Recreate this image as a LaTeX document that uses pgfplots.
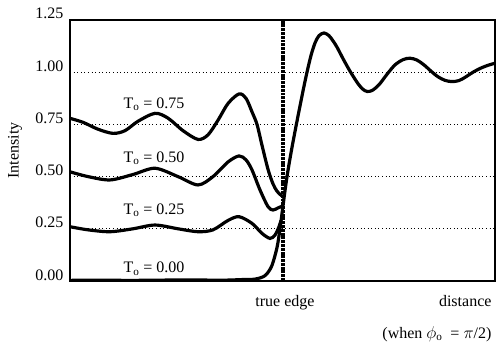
\documentclass[border=0pt]{standalone}
\usepackage{fontspec}
\setmainfont{Liberation Serif}
\usepackage{pgfplots}
\pgfplotsset{compat=1.18}
\begin{document}
\fontsize{16bp}{19bp}\selectfont
\begin{tikzpicture}
\begin{axis}[
  scale only axis,
  width=425bp, height=261bp,
  xmin=-213, xmax=212, ymin=0, ymax=1.25,
  xtick=\empty,
  ytick={0,0.25,0.5,0.75,1.0,1.25},
  yticklabel style={/pgf/number format/fixed,/pgf/number format/fixed zerofill,/pgf/number format/precision=2,/pgf/number format/assume math mode=true, anchor=base east, xshift=-1bp, yshift=1bp},
  major tick length=0pt,
  ymajorgrids,
  grid style={black, line width=1pt, dash pattern=on 1pt off 2.6pt},
  axis line style={black, line width=1.4pt},
  ylabel={Intensity},
  ylabel style={at={(rel axis cs:0,0.5)}, anchor=center, yshift=55bp},
  clip=false,
  every axis plot/.append style={black, line width=3.2pt, no marks},
]
% true edge line
\addplot[line width=4.2pt, dash pattern=on 3pt off 0.8pt] coordinates {(0,0) (0,1.25)};
% T0 = 0.00 (full curve)
\addplot[smooth, tension=0.5] coordinates {
(-213,0.003) (-190,0.004) (-150,0.003) (-100,0.005) (-60,0.004) (-40,0.007) (-30,0.008)
(-25,0.012) (-20,0.02) (-16,0.035) (-11,0.075) (-6,0.16) (-3,0.25) (0,0.36) (4,0.50)
(9,0.64) (15,0.79) (20,0.91) (24,1.0) (28,1.08) (32,1.14) (36,1.175) (41,1.188)
(46,1.175) (50,1.15) (54,1.12) (60,1.065) (67,1.005) (75,0.945) (80,0.918) (84,0.908)
(89,0.912) (96,0.94) (104,0.99) (112,1.035) (120,1.06) (127,1.067) (134,1.058)
(141,1.035) (148,1.005) (155,0.978) (162,0.961) (169,0.955) (176,0.96) (183,0.978)
(190,1.0) (198,1.02) (205,1.033) (212,1.043)};
% T0 = 0.25
\addplot[smooth, tension=0.5] coordinates {
(-213,0.26) (-195,0.245) (-173,0.236) (-150,0.25) (-128,0.268) (-105,0.25) (-85,0.236)
(-70,0.245) (-55,0.29) (-44,0.308) (-31,0.276) (-21,0.228) (-13,0.204) (-8,0.22)
(-4,0.26) (-2,0.29)};
% T0 = 0.50
\addplot[smooth, tension=0.5] coordinates {
(-213,0.523) (-195,0.5) (-173,0.484) (-150,0.51) (-128,0.54) (-105,0.5) (-85,0.46)
(-70,0.5) (-55,0.57) (-44,0.599) (-37,0.58) (-31,0.532) (-23,0.436) (-15,0.356)
(-10,0.34) (-5,0.35) (0,0.36)};
% T0 = 0.75
\addplot[smooth, tension=0.5] coordinates {
(-213,0.779) (-200,0.76) (-185,0.727) (-170,0.707) (-158,0.72) (-145,0.765) (-128,0.803)
(-115,0.78) (-100,0.72) (-85,0.678) (-75,0.7) (-65,0.77) (-55,0.85) (-44,0.896)
(-37,0.875) (-31,0.81) (-26,0.75) (-21,0.65) (-15,0.535) (-10,0.465) (-6,0.43)
(-3,0.415) (1,0.40)};
% labels
\node[anchor=base] at (axis cs:-129,0.828) {T\textsubscript{o} = 0.75};
\node[anchor=base] at (axis cs:-129,0.568) {T\textsubscript{o} = 0.50};
\node[anchor=base] at (axis cs:-129,0.319) {T\textsubscript{o} = 0.25};
\node[anchor=base] at (axis cs:-129,0.040) {T\textsubscript{o} = 0.00};
\node[anchor=base] at (axis cs:2,-0.123) {true edge};
\node[anchor=base east] at (axis cs:214,-0.123) {distance};
\node[anchor=base east] at (axis cs:214,-0.273) {(when $\phi$\textsubscript{o} \ = $\pi$/2)};
\coordinate (O) at (rel axis cs:0,0);
\end{axis}
\pgfresetboundingbox
\path (O) ++(-70bp,-64bp) rectangle ++(499bp,345bp);
\end{tikzpicture}
\end{document}
